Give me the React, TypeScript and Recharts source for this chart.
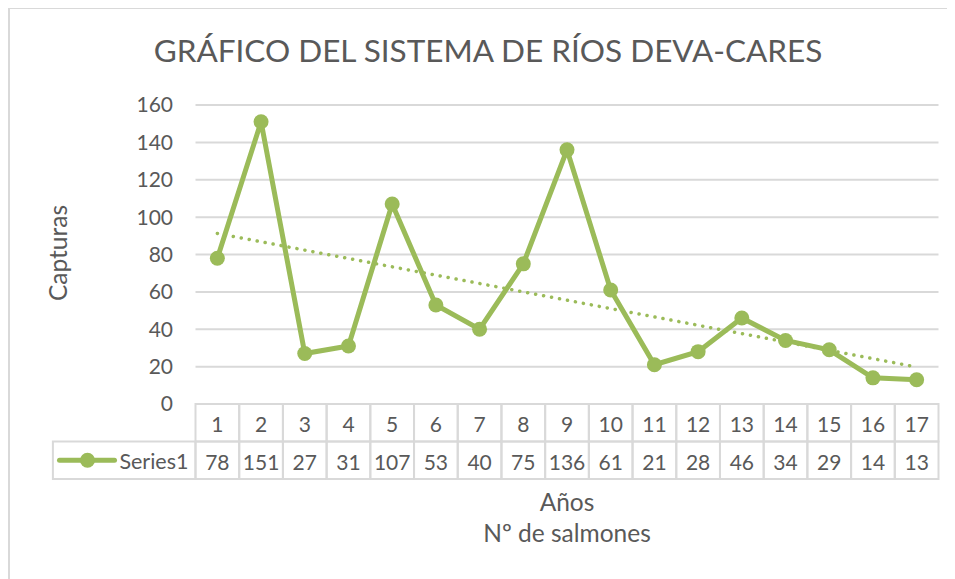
import React from 'react';
import { LineChart, Line, XAxis, YAxis, CartesianGrid } from 'recharts';

const years = [1, 2, 3, 4, 5, 6, 7, 8, 9, 10, 11, 12, 13, 14, 15, 16, 17];
const captures = [78, 151, 27, 31, 107, 53, 40, 75, 136, 61, 21, 28, 46, 34, 29, 14, 13];
const yTicks = [0, 20, 40, 60, 80, 100, 120, 140, 160];

const GREEN = '#9BBB59';
const GRID = '#d9d9d9';
const TEXT = '#595959';
const FONT = 'Lato, "Open Sans", sans-serif';
const TICK_FS = 21;

const CHART_W = 946;
const CHART_H = 570;
const MARGIN = { top: 96, right: 17.5, left: 125.5, bottom: 0 };
const Y_AXIS_W = 60;
const BAND = (CHART_W - MARGIN.left - Y_AXIS_W - MARGIN.right) / years.length;
const ROW_H = 37.5;

// linear trendline (least squares), like Excel's
function linearTrend(xs: number[], ys: number[]) {
  const n = xs.length;
  const mx = xs.reduce((a, b) => a + b, 0) / n;
  const my = ys.reduce((a, b) => a + b, 0) / n;
  let num = 0;
  let den = 0;
  xs.forEach((x, i) => {
    num += (x - mx) * (ys[i] - my);
    den += (x - mx) * (x - mx);
  });
  const slope = num / den;
  return xs.map((x) => my + slope * (x - mx));
}

const trend = linearTrend(years, captures);

const data = years.map((year, i) => ({
  year,
  value: captures[i],
  trend: trend[i],
}));

const TableTick = (props: any) => {
  const { x, y, index } = props;
  const left = x - BAND / 2;
  const d = data[index];
  return (
    <g>
      <rect x={left} y={y} width={BAND} height={ROW_H} fill="none" stroke={GRID} strokeWidth={2} />
      <rect x={left} y={y + ROW_H} width={BAND} height={ROW_H} fill="none" stroke={GRID} strokeWidth={2} />
      <text x={x} y={y + ROW_H / 2 + 1} textAnchor="middle" dominantBaseline="central" fill={TEXT} fontSize={TICK_FS} fontFamily={FONT}>
        {d.year}
      </text>
      <text x={x} y={y + ROW_H * 1.5 + 1} textAnchor="middle" dominantBaseline="central" fill={TEXT} fontSize={TICK_FS} fontFamily={FONT}>
        {d.value}
      </text>
      {index === 0 && (
        <g>
          <rect x={left - 142.6} y={y + ROW_H} width={142.6} height={ROW_H} fill="none" stroke={GRID} strokeWidth={2} />
          <line x1={left - 136} x2={left - 81} y1={y + ROW_H * 1.5} y2={y + ROW_H * 1.5} stroke={GREEN} strokeWidth={5} strokeLinecap="round" />
          <circle cx={left - 108} cy={y + ROW_H * 1.5} r={7.5} fill={GREEN} />
          <text x={left - 7} y={y + ROW_H * 1.5 + 1} textAnchor="end" dominantBaseline="central" fill={TEXT} fontSize={TICK_FS + 0.5} fontFamily={FONT}>
            Series1
          </text>
        </g>
      )}
    </g>
  );
};

const abs = (x: number, y: number, extra: React.CSSProperties = {}): React.CSSProperties => ({
  position: 'absolute',
  left: x,
  top: y,
  transform: 'translate(-50%, -50%)',
  whiteSpace: 'nowrap',
  color: TEXT,
  fontFamily: FONT,
  lineHeight: 1,
  ...extra,
});

export default function App() {
  return (
    <div
      style={{
        position: 'relative',
        width: CHART_W,
        height: CHART_H,
        borderTop: `1px solid ${GRID}`,
        borderLeft: `2px solid ${GRID}`,
        background: '#fff',
      }}
    >
      <LineChart width={CHART_W} height={CHART_H} data={data} margin={MARGIN}>
        <CartesianGrid vertical={false} stroke={GRID} strokeWidth={2} />
        <XAxis
          dataKey="year"
          type="category"
          axisLine={false}
          tickLine={false}
          tickSize={0}
          tickMargin={0}
          interval={0}
          padding={{ left: BAND / 2, right: BAND / 2 }}
          height={CHART_H - 395}
          tick={<TableTick />}
        />
        <YAxis
          domain={[0, 160]}
          ticks={yTicks}
          width={Y_AXIS_W}
          axisLine={false}
          tickLine={false}
          tickSize={0}
          tickMargin={22.5}
          tick={{ fill: TEXT, fontSize: TICK_FS, fontFamily: FONT }}
        />
        <Line
          type="linear"
          dataKey="trend"
          stroke={GREEN}
          strokeWidth={3.5}
          strokeDasharray="0.1 8"
          strokeLinecap="round"
          dot={false}
          activeDot={false}
          isAnimationActive={false}
        />
        <Line
          type="linear"
          dataKey="value"
          stroke={GREEN}
          strokeWidth={5}
          dot={{ r: 7.5, fill: GREEN, stroke: GREEN, strokeWidth: 0 }}
          activeDot={false}
          isAnimationActive={false}
        />
      </LineChart>
      <div style={abs(478, 42, { fontSize: 31.5 })}>GRÁFICO DEL SISTEMA DE RÍOS DEVA-CARES</div>
      <div style={abs(48, 244, { fontSize: 24.5, transform: 'translate(-50%, -50%) rotate(-90deg)' })}>Capturas</div>
      <div style={abs(557, 493, { fontSize: 24.5 })}>Años</div>
      <div style={abs(557, 524, { fontSize: 24.5 })}>Nº de salmones</div>
    </div>
  );
}
